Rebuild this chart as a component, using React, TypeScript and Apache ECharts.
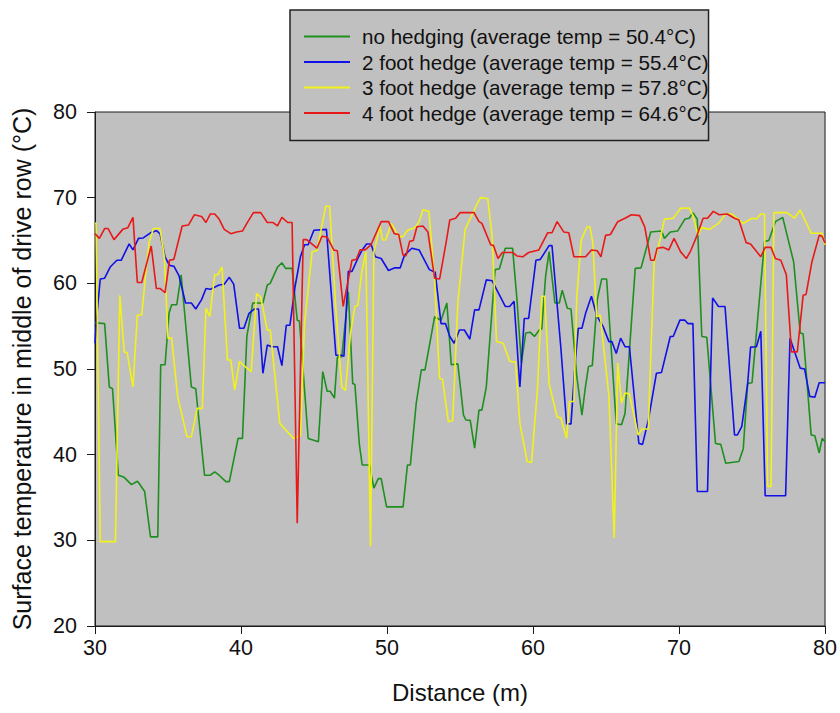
import React, { useEffect, useRef } from "react";
import * as echarts from "echarts";

// Surface temperature (°C) along the drive row, by distance (m)
const noHedging: [number, number][] = [
  [30.0, 55.4], [30.66, 55.3], [30.98, 47.9], [31.2, 47.7], [31.6, 37.6], [31.96, 37.4], [32.5, 36.5],
  [32.9, 36.9], [33.0, 36.7], [33.4, 35.7], [33.8, 30.4], [34.3, 30.4], [34.5, 50.5], [34.8, 50.5],
  [35.07, 56.5], [35.25, 57.5], [35.6, 57.5], [35.9, 61.0], [36.6, 47.9], [36.9, 47.7], [37.5, 37.6],
  [37.9, 37.6], [38.2, 38.0], [38.5, 37.6], [38.96, 36.85], [39.2, 36.85], [39.8, 41.9], [40.1, 41.9],
  [40.4, 53.8], [40.8, 57.7], [41.5, 57.7], [41.8, 59.8], [42.0, 60.0], [42.5, 61.9], [42.8, 62.4],
  [43.05, 61.75], [43.5, 61.75], [43.85, 55.7], [44.0, 55.6], [44.6, 41.9], [45.3, 41.5], [45.6, 49.7],
  [45.9, 47.4], [46.1, 47.4], [46.4, 46.6], [46.6, 51.4], [46.9, 51.4], [47.35, 59.0], [47.65, 48.3],
  [47.8, 48.2], [48.1, 41.3], [48.3, 38.8], [48.8, 38.8], [49.1, 36.1], [49.4, 37.2], [49.6, 37.2],
  [49.97, 33.9], [51.1, 33.9], [51.4, 38.8], [51.6, 38.8], [52.0, 46.0], [52.35, 49.9], [52.6, 49.9],
  [53.26, 56.1], [53.7, 55.7], [54.1, 57.7], [54.4, 50.5], [54.85, 50.6], [55.24, 44.6], [55.4, 44.05],
  [55.7, 44.0], [56.0, 40.75], [56.3, 45.2], [56.5, 45.2], [56.8, 47.9], [57.4, 61.6], [57.7, 61.7],
  [58.1, 64.1], [58.6, 64.1], [58.9, 58.1], [59.2, 50.7], [59.5, 54.2], [59.8, 54.3], [60.1, 53.8],
  [60.4, 54.5], [60.6, 54.7], [60.86, 60.8], [61.1, 63.7], [61.5, 57.7], [61.8, 57.7], [62.0, 59.2],
  [62.35, 57.1], [62.6, 57.0], [63.0, 49.1], [63.35, 44.6], [63.56, 47.55], [63.8, 50.3], [64.06, 50.4],
  [64.4, 58.1], [64.7, 60.5], [65.04, 60.5], [65.7, 43.6], [66.06, 43.5], [66.3, 44.8], [67.0, 61.75],
  [67.4, 61.8], [68.06, 66.0], [68.8, 66.1], [69.0, 65.25], [69.4, 66.0], [69.9, 66.1], [70.4, 67.5],
  [70.7, 67.6], [70.95, 68.25], [71.25, 67.5], [71.56, 53.8], [71.9, 53.7], [72.5, 41.3], [72.86, 41.2],
  [73.2, 39.0], [74.1, 39.2], [74.4, 40.7], [74.7, 48.3], [75.0, 48.4], [75.6, 60.0], [75.86, 64.9],
  [76.15, 65.0], [76.6, 67.2], [77.1, 67.7], [77.85, 62.5], [78.3, 54.2], [78.5, 54.1], [79.05, 42.3],
  [79.3, 42.2], [79.6, 40.2], [79.8, 41.9], [80.0, 41.5],
];

const twoFootHedge: [number, number][] = [
  [30.0, 53.0], [30.14, 56.5], [30.36, 60.5], [30.66, 60.6], [31.04, 61.9], [31.5, 62.7], [31.8, 62.7],
  [32.34, 64.6], [32.6, 63.9], [32.98, 65.25], [33.3, 65.3], [33.8, 65.9], [34.2, 66.15], [34.45, 65.8],
  [34.8, 63.1], [35.1, 62.1], [35.4, 62.0], [35.75, 60.9], [36.2, 57.7], [36.6, 57.7], [36.9, 57.0],
  [37.3, 58.1], [37.6, 59.4], [37.9, 59.3], [38.5, 59.8], [38.85, 59.9], [39.2, 60.7], [39.5, 59.9],
  [39.9, 54.75], [40.2, 54.75], [40.55, 56.5], [40.9, 57.0], [41.2, 57.0], [41.5, 49.5], [41.8, 52.8],
  [42.1, 52.6], [42.5, 52.6], [42.8, 50.4], [43.1, 55.1], [43.35, 55.1], [43.7, 59.6], [44.07, 63.1],
  [44.35, 64.5], [44.6, 64.5], [44.99, 66.2], [45.85, 66.3], [46.5, 51.6], [46.9, 51.6], [47.05, 51.5],
  [47.35, 61.4], [47.6, 61.4], [48.0, 62.9], [48.3, 63.9], [48.6, 64.6], [48.9, 64.6], [49.2, 63.1],
  [49.6, 62.9], [50.1, 61.5], [50.5, 61.8], [50.9, 61.8], [51.2, 63.3], [51.7, 64.1], [52.2, 63.9],
  [52.9, 61.6], [53.3, 61.3], [53.7, 55.3], [54.0, 55.3], [54.3, 53.8], [54.6, 53.0], [54.96, 54.55],
  [55.3, 54.55], [55.67, 53.5], [56.0, 56.9], [56.3, 56.9], [56.8, 60.4], [57.2, 60.3], [58.1, 57.3],
  [58.4, 57.3], [58.7, 57.9], [59.1, 47.9], [59.4, 55.9], [59.7, 55.9], [60.2, 62.7], [60.5, 62.8],
  [61.1, 64.4], [61.3, 64.4], [61.9, 52.6], [62.3, 43.6], [62.6, 43.6], [62.9, 51.05], [63.1, 54.75],
  [63.35, 54.75], [63.6, 56.5], [64.0, 58.5], [64.35, 56.3], [64.8, 54.95], [65.2, 53.2], [65.4, 53.2],
  [65.7, 51.8], [66.0, 53.6], [66.3, 52.6], [66.6, 52.6], [67.25, 41.3], [67.5, 41.2], [67.9, 44.05],
  [68.45, 49.5], [68.8, 49.6], [69.4, 53.8], [69.6, 53.8], [70.06, 55.7], [70.4, 55.7], [70.6, 55.3],
  [70.95, 55.3], [71.25, 35.7], [71.95, 35.7], [72.3, 58.3], [72.7, 57.3], [73.15, 57.3], [73.8, 42.3],
  [74.0, 42.3], [74.3, 43.3], [74.7, 48.3], [74.9, 52.55], [75.3, 52.6], [75.6, 54.4], [75.9, 35.2],
  [77.3, 35.2], [77.6, 53.6], [78.3, 50.1], [78.6, 50.0], [78.95, 46.8], [79.3, 46.7], [79.6, 48.4],
  [80.0, 48.4],
];

const threeFootHedge: [number, number][] = [
  [30.0, 67.0], [30.07, 67.0], [30.36, 29.85], [31.4, 29.85], [31.7, 58.6], [32.0, 52.0], [32.2, 51.9],
  [32.6, 47.9], [32.9, 56.3], [33.2, 56.3], [33.5, 61.55], [33.7, 64.7], [34.0, 66.4], [34.45, 66.4],
  [34.75, 63.1], [35.0, 53.6], [35.25, 53.6], [35.66, 46.8], [36.3, 42.1], [36.6, 42.1], [37.0, 45.4],
  [37.35, 45.4], [37.6, 57.1], [37.86, 56.1], [38.2, 61.0], [38.4, 61.0], [38.7, 61.9], [39.07, 51.05],
  [39.3, 51.05], [39.57, 47.55], [39.9, 50.9], [40.2, 50.4], [40.7, 49.7], [41.07, 58.8], [41.35, 58.4],
  [41.8, 54.55], [42.0, 54.55], [42.66, 43.65], [43.16, 42.7], [43.6, 41.9], [44.07, 42.2], [44.35, 55.3],
  [44.87, 63.7], [45.2, 63.8], [45.8, 69.0], [46.07, 69.0], [46.5, 56.9], [46.9, 47.9], [47.15, 47.5],
  [47.5, 54.2], [47.8, 57.3], [48.0, 57.4], [48.26, 61.2], [48.55, 63.7], [48.87, 29.3], [49.1, 63.7],
  [49.3, 65.05], [49.5, 66.8], [49.7, 65.05], [49.9, 65.05], [50.3, 67.0], [50.8, 65.45], [51.1, 65.45],
  [51.4, 66.2], [51.9, 66.5], [52.2, 67.2], [52.46, 68.6], [52.87, 68.4], [53.26, 60.4], [53.6, 48.9],
  [53.8, 48.8], [54.2, 43.85], [54.5, 44.0], [54.85, 57.7], [55.35, 66.3], [56.1, 69.0], [56.4, 70.0],
  [56.9, 69.9], [57.2, 65.45], [57.5, 53.2], [57.96, 53.0], [58.4, 50.9], [58.8, 50.8], [59.1, 43.65],
  [59.6, 39.2], [59.9, 39.1], [60.3, 47.55], [60.6, 58.5], [60.8, 58.5], [61.1, 48.3], [61.65, 44.4],
  [61.9, 44.3], [62.3, 41.9], [62.5, 46.2], [62.8, 46.2], [63.0, 58.5], [63.3, 65.05], [63.7, 66.6],
  [63.9, 66.6], [64.1, 64.7], [64.35, 56.1], [64.6, 56.3], [65.2, 46.8], [65.56, 30.25], [65.8, 50.7],
  [66.06, 46.0], [66.3, 47.2], [66.6, 47.1], [67.2, 42.3], [67.46, 43.0], [67.9, 43.0], [68.06, 51.4],
  [68.3, 62.5], [68.7, 65.05], [69.0, 67.5], [69.6, 67.6], [70.1, 68.75], [70.7, 68.8], [70.95, 67.9],
  [71.3, 65.65], [71.55, 66.5], [72.1, 66.3], [72.7, 67.0], [73.2, 68.1], [73.6, 68.1], [74.4, 67.0],
  [75.0, 67.6], [75.3, 67.5], [75.6, 68.1], [75.85, 68.1], [76.07, 36.3], [76.3, 36.3], [76.5, 68.25],
  [77.4, 68.25], [77.9, 67.6], [78.3, 68.55], [79.05, 65.85], [79.8, 65.85], [80.0, 64.5],
];

const fourFootHedge: [number, number][] = [
  [30.0, 65.8], [30.3, 65.25], [30.66, 66.4], [30.9, 66.4], [31.3, 65.1], [31.9, 66.3], [32.25, 66.5],
  [32.6, 67.7], [32.9, 60.1], [33.2, 60.1], [33.85, 64.35], [34.2, 59.4], [34.45, 59.4], [34.8, 58.9],
  [35.1, 62.7], [35.4, 62.8], [35.97, 66.7], [36.4, 66.8], [36.8, 68.0], [37.3, 67.8], [37.6, 67.1],
  [37.9, 68.1], [38.2, 68.1], [38.5, 67.5], [38.85, 66.3], [39.3, 65.8], [39.7, 66.0], [40.1, 66.1],
  [40.4, 67.0], [40.85, 68.25], [41.35, 68.25], [41.8, 67.1], [42.2, 67.1], [42.5, 66.7], [42.8, 67.7],
  [43.2, 67.1], [43.5, 67.1], [43.85, 32.0], [44.26, 65.1], [44.5, 65.1], [45.2, 64.1], [45.55, 65.5],
  [45.9, 65.4], [46.35, 63.9], [46.6, 63.8], [47.0, 57.3], [47.6, 62.7], [47.9, 62.8], [48.15, 63.9],
  [48.5, 63.9], [48.9, 64.5], [49.6, 67.2], [50.1, 67.2], [50.5, 65.8], [50.8, 65.7], [51.1, 63.3],
  [51.3, 63.2], [51.55, 64.9], [51.8, 65.0], [52.05, 66.6], [52.46, 66.7], [52.8, 66.0], [53.26, 60.6],
  [53.6, 60.5], [54.06, 64.9], [54.3, 67.4], [54.7, 67.6], [55.0, 68.25], [55.96, 68.25], [56.3, 67.2],
  [56.5, 67.0], [57.1, 64.5], [57.3, 64.4], [57.6, 62.9], [57.9, 63.6], [58.6, 63.6], [58.9, 63.2],
  [59.3, 63.1], [59.7, 63.6], [60.4, 63.9], [61.0, 65.9], [61.3, 65.9], [61.65, 67.2], [62.1, 66.0],
  [62.45, 65.9], [62.8, 63.1], [63.6, 63.1], [64.0, 63.9], [64.4, 63.8], [64.65, 63.1], [64.97, 65.6],
  [65.3, 65.7], [65.8, 67.2], [66.3, 67.6], [66.74, 68.0], [67.3, 67.9], [67.65, 66.6], [68.06, 62.7],
  [68.3, 62.7], [68.5, 64.1], [68.9, 64.2], [69.3, 63.9], [69.66, 65.25], [70.1, 63.7], [70.5, 62.9],
  [70.8, 63.8], [71.2, 65.45], [71.65, 67.6], [71.95, 67.6], [72.35, 68.4], [72.75, 68.0], [73.3, 68.1],
  [73.8, 67.6], [74.1, 67.4], [74.6, 64.75], [74.9, 64.6], [75.6, 63.1], [75.9, 64.2], [76.3, 64.2],
  [76.6, 62.9], [76.97, 62.7], [77.35, 61.0], [77.7, 52.0], [78.1, 52.0], [78.5, 58.6], [78.7, 58.7],
  [79.1, 62.5], [79.6, 65.6], [79.8, 65.5], [80.0, 64.7],
];

const seriesNames = [
  "no hedging (average temp = 50.4°C)",
  "2 foot hedge (average temp = 55.4°C)",
  "3 foot hedge (average temp = 57.8°C)",
  "4 foot hedge (average temp = 64.6°C)",
];
const seriesColors = ["#1f8f1f", "#1010e8", "#f2f21a", "#e81818"];
const seriesData = [noHedging, twoFootHedge, threeFootHedge, fourFootHedge];

const FONT = "'Liberation Sans', Arial, sans-serif";

export default function App() {
  const ref = useRef<HTMLDivElement>(null);

  useEffect(() => {
    if (!ref.current) return;
    const chart = echarts.init(ref.current, undefined, { renderer: "svg" });
    chart.setOption({
      animation: false,
      backgroundColor: "#ffffff",
      textStyle: { fontFamily: FONT, color: "#000" },
      grid: {
        left: 95,
        right: 12,
        top: 112,
        bottom: 87,
        show: true,
        backgroundColor: "#c0c0c0",
        borderColor: "#1a1a1a",
        borderWidth: 1,
      },
      legend: {
        orient: "vertical",
        left: 290,
        top: 10,
        backgroundColor: "#c0c0c0",
        borderColor: "#222",
        borderWidth: 1.5,
        borderRadius: 0,
        padding: [16, 0, 17, 14],
        icon: "rect",
        itemWidth: 46,
        itemHeight: 2,
        itemGap: 4.5,
        selectedMode: false,
        textStyle: {
          fontFamily: FONT,
          fontSize: 20.6,
          lineHeight: 21,
          color: "#111",
          padding: [0, 0, 0, 7],
        },
        data: seriesNames,
      },
      xAxis: {
        type: "value",
        min: 30,
        max: 80,
        interval: 10,
        name: "Distance (m)",
        nameLocation: "middle",
        nameGap: 54,
        nameTextStyle: { fontFamily: FONT, fontSize: 24, color: "#111" },
        axisLine: { show: true, lineStyle: { color: "#1a1a1a", width: 1 } },
        axisTick: { show: true, inside: false, length: 8, lineStyle: { color: "#1a1a1a" } },
        axisLabel: { fontFamily: FONT, fontSize: 21.5, color: "#111", margin: 11 },
        splitLine: { show: false },
      },
      yAxis: {
        type: "value",
        min: 20,
        max: 80,
        interval: 10,
        name: "Surface temperature in middle of drive row (°C)",
        nameLocation: "middle",
        nameGap: 61,
        nameTextStyle: { fontFamily: FONT, fontSize: 25, color: "#111" },
        axisLine: { show: true, lineStyle: { color: "#1a1a1a", width: 1 } },
        axisTick: { show: true, inside: false, length: 8, lineStyle: { color: "#1a1a1a" } },
        axisLabel: { fontFamily: FONT, fontSize: 21.5, color: "#111", margin: 18 },
        splitLine: { show: false },
      },
      series: seriesData.map((data, i) => ({
        name: seriesNames[i],
        type: "line",
        data,
        symbol: "none",
        showSymbol: false,
        color: seriesColors[i],
        lineStyle: { color: seriesColors[i], width: 1.6 },
        clip: true,
        z: 2 + i,
      })),
    });
    return () => chart.dispose();
  }, []);

  return (
    <div
      ref={ref}
      style={{ position: "absolute", left: 0, top: 0, width: 840, height: 713 }}
    />
  );
}
